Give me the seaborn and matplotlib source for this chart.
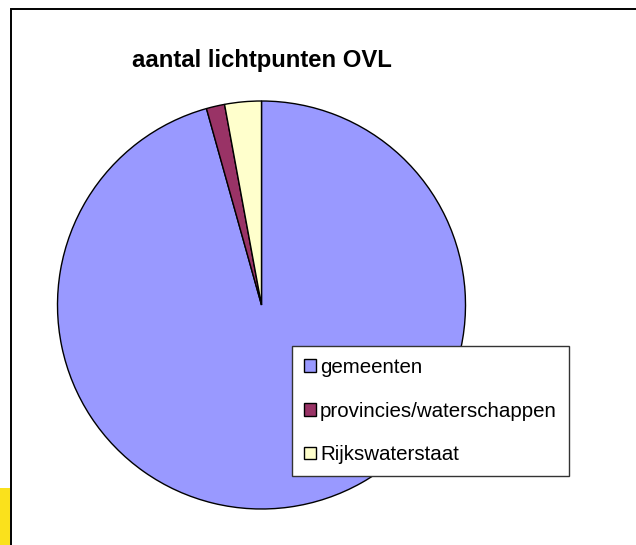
import matplotlib.pyplot as plt
import seaborn as sns
from matplotlib.patches import Rectangle

# Gegevens (geschat uit de grafiek)
categorieen = ['gemeenten', 'provincies/waterschappen', 'Rijkswaterstaat']
lichtpunten = [3300000, 50000, 100000]
kleuren = ['#9999FF', '#993366', '#FFFFCC']
titel = 'aantal lichtpunten OVL'

sns.set_theme(style='white')
plt.rcParams['font.family'] = ['Liberation Sans', 'DejaVu Sans']
plt.rcParams['text.color'] = 'black'

W, H = 636, 545
fig = plt.figure(figsize=(W / 100, H / 100), dpi=100)
fig.patch.set_facecolor('white')

# Kader en gele strook links onder
fig.patches.append(Rectangle((11 / W, -0.05), 1.2, 1 - 9 / H + 0.05, transform=fig.transFigure,
                             fill=False, edgecolor='black', linewidth=1.4))
fig.patches.append(Rectangle((0, 0), 10 / W, 57 / H, transform=fig.transFigure,
                             facecolor='#FAE11C', edgecolor='none'))

# Taartdiagram
cx, cy, r = 261.5, 305, 204
ax = fig.add_axes([(cx - r) / W, (H - cy - r) / H, 2 * r / W, 2 * r / H])
palet = sns.color_palette(kleuren)
wedges, _ = ax.pie(lichtpunten, colors=palet, startangle=90, counterclock=False,
                   wedgeprops=dict(edgecolor='black', linewidth=1))
ax.set_xlim(-1, 1)
ax.set_ylim(-1, 1)
ax.set_aspect('auto')
ax.axis('off')

fig.text(cx / W, 1 - 60 / H, titel, ha='center', va='center', fontsize=17.2, fontweight='bold',
         color='black')

leg = fig.legend(wedges, categorieen, loc='upper left', bbox_to_anchor=(292 / W, 1 - 346 / H),
                 bbox_transform=fig.transFigure, fontsize=14.8, frameon=True, fancybox=False,
                 handlelength=0.58, handleheight=0.58, handletextpad=0.2, labelspacing=1.2,
                 borderpad=0.58, borderaxespad=0, labelcolor='black')
leg.get_frame().set_edgecolor('#333333')
leg.get_frame().set_linewidth(1)
leg.get_frame().set_alpha(1)

plt.savefig('out.png', dpi=100)
plt.close()
